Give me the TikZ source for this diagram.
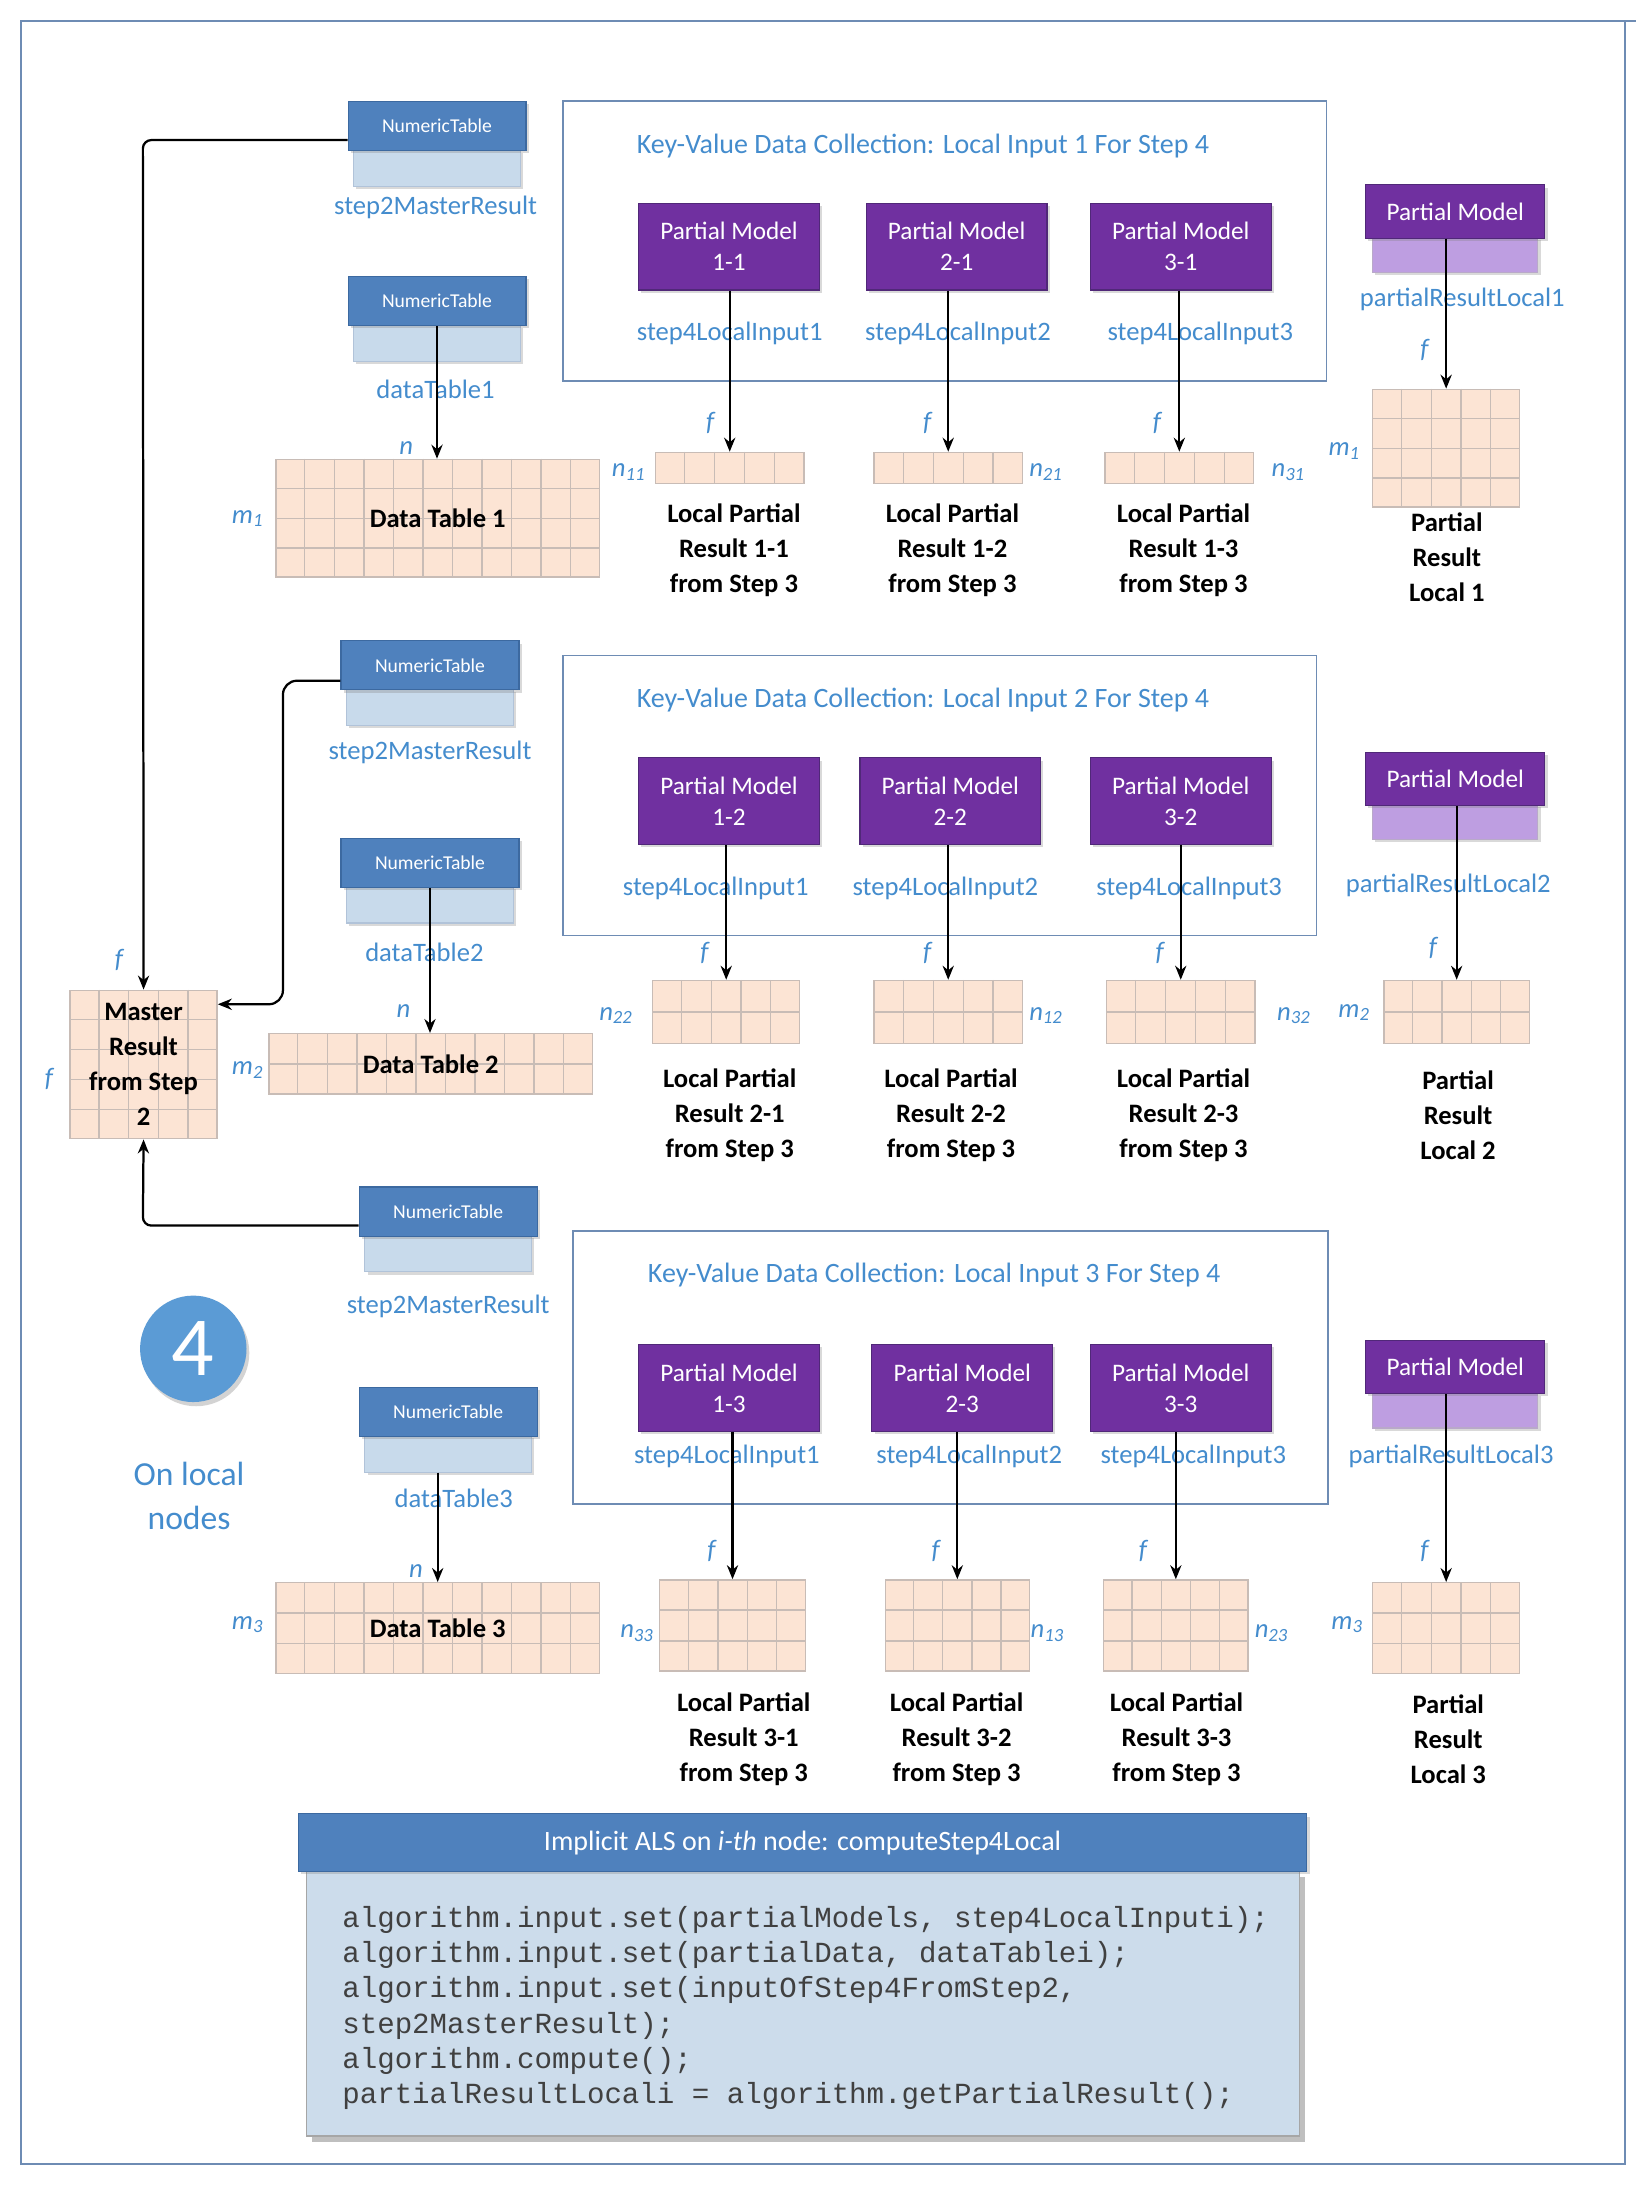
\documentclass[tikz,border=0pt]{standalone}
\usepackage{fontspec}
\setmainfont{Carlito}
\newfontfamily\codefont{Liberation Mono}
\usetikzlibrary{calc,shadows,arrows.meta}
\definecolor{lbl}{RGB}{68,140,205}
\definecolor{ntf}{RGB}{79,129,189}
\definecolor{ntb}{RGB}{60,105,160}
\definecolor{ntlf}{RGB}{200,218,235}
\definecolor{pmf}{RGB}{112,48,160}
\definecolor{pmb}{RGB}{80,40,120}
\definecolor{pmlf}{RGB}{190,158,225}
\definecolor{gridf}{RGB}{252,228,212}
\definecolor{gridl}{RGB}{200,188,182}
\definecolor{brd}{RGB}{110,140,180}
\definecolor{circ}{RGB}{91,155,213}
\definecolor{codebg}{RGB}{204,220,235}
\begin{document}
\begin{tikzpicture}[x=0.5pt,y=-0.5pt,
 lab/.style={text=lbl,font=\fontsize{9.5}{11}\selectfont,inner sep=0},
 vl/.style={text=lbl,font=\fontsize{9.5}{11}\selectfont\itshape,inner sep=0},
 nt/.style={draw=ntb,fill=ntf,text=white,minimum width=63.5pt,minimum height=17.5pt,inner sep=0,font=\fontsize{7}{8}\selectfont,drop shadow={shadow xshift=1pt,shadow yshift=-1pt,opacity=0.3}},
 ntl/.style={draw=ntb!40,fill=ntlf,minimum width=59.5pt,minimum height=13pt,inner sep=0,drop shadow={shadow xshift=1pt,shadow yshift=-1pt,opacity=0.3}},
 pm/.style={draw=pmb,fill=pmf,text=white,minimum width=64.5pt,minimum height=31pt,inner sep=0,align=center,font=\fontsize{9}{11}\selectfont,drop shadow={shadow xshift=1pt,shadow yshift=-1pt,opacity=0.3}},
 rpm/.style={draw=pmb,fill=pmf,text=white,minimum width=64pt,minimum height=19pt,inner sep=0,font=\fontsize{9}{11}\selectfont,drop shadow={shadow xshift=1pt,shadow yshift=-1pt,opacity=0.3}},
 rpml/.style={draw=pmb!40,fill=pmlf,minimum width=59pt,minimum height=12.5pt,inner sep=0,drop shadow={shadow xshift=1pt,shadow yshift=-1pt,opacity=0.3}},
 capt/.style={font=\bfseries\fontsize{9.5}{12.5}\selectfont,align=center,inner sep=0},
 kv/.style={draw=brd,line width=0.6pt},
 kvt/.style={text=lbl,font=\fontsize{10}{12}\selectfont,inner sep=0},
 arr/.style={-{Stealth[length=5pt,width=4pt]},line width=0.8pt,black}]
\newcommand\gtab[7]{%
 \node[draw=gridl,fill=gridf,minimum width={0.5pt*#4},minimum height={0.5pt*#5},inner sep=0,line width=0.5pt] (#1) at (#2,#3) {};
 \foreach \i in {1,...,#6}{\draw[gridl,line width=0.5pt] ($(#1.north west)!{\i/(#6+1)}!(#1.north east)$) -- ($(#1.south west)!{\i/(#6+1)}!(#1.south east)$);}
 \ifnum#7>0 \foreach \j in {1,...,#7}{\draw[gridl,line width=0.5pt] ($(#1.north west)!{\j/(#7+1)}!(#1.south west)$) -- ($(#1.north east)!{\j/(#7+1)}!(#1.south east)$);}\fi}
\useasboundingbox (0,0) rectangle (1178,1565);
\draw[brd,line width=0.6pt] (15,15) rectangle (1160,1545);
\draw[brd,line width=0.6pt] (1160,15) -- (1168,15);
% circle
\node[circle,fill=circ,minimum size=38pt,text=white,font=\fontsize{30}{30}\selectfont,drop shadow={shadow xshift=1pt,shadow yshift=-1.5pt,opacity=0.35}] (four) at (138,963) {4};
\node[text=lbl,font=\fontsize{12}{16}\selectfont,align=center] (onl) at (135,1068) {On local\\nodes};
% ===== Row 1 =====
\node[ntl] (s1b) at (312,120) {}; \node[nt] (s1) at (312,90) {NumericTable};
\node[lab] (s1l) at (311,148) {step2MasterResult};
\node[ntl] (d1b) at (312,245) {}; \node[nt] (d1) at (312,215) {NumericTable};
\node[lab] (d1l) at (311,278) {dataTable1};
\gtab{dt1}{312.5}{370}{231}{84}{10}{3}
\node[capt,font=\bfseries\fontsize{9.5}{11}\selectfont] at (dt1) {Data Table 1};
\node[vl] at (290,320) {n}; \node[vl] at (177,370) {m\textsubscript{1}};
\draw[arr] (d1.south) -- (d1.south |- dt1.north);
% master
\gtab{ms}{102.5}{760}{105}{106}{4}{4}
\node[capt,font=\bfseries\fontsize{9.5}{12.5}\selectfont] at (ms) {Master\\Result\\from Step\\2};
\node[vl] at (85,685) {f}; \node[vl] at (35,770) {f};
\coordinate (c1) at (102,100);
\draw[arr,rounded corners=3pt] (s1.west |- c1) -- (c1) -- (ms.north);
\draw[kv] (402,72) rectangle (947,272);
\node[kvt] at (659,104) {Key-Value Data Collection: Local Input 1 For Step 4};
\node[pm] (p11) at (520.5,176) {Partial Model\\1-1};
\node[pm] (p21) at (683,176) {Partial Model\\2-1};
\node[pm] (p31) at (843,176) {Partial Model\\3-1};
\node[lab] at (521,238) {step4LocalInput1};
\node[lab] at (684,238) {step4LocalInput2};
\node[lab] at (857,238) {step4LocalInput3};
\gtab{t11}{521}{334}{106}{22}{4}{0}
\gtab{t21}{677}{334}{106}{22}{4}{0}
\gtab{t31}{842}{334}{106}{22}{4}{0}
\draw[arr] (t11.north |- p11.south) -- (t11.north);
\draw[arr] (t21.north |- p21.south) -- (t21.north);
\draw[arr] (t31.north |- p31.south) -- (t31.north);
\node[vl] at (507,302) {f}; \node[vl] at (662,302) {f}; \node[vl] at (826,302) {f};
\node[vl] at (449,337) {n\textsubscript{11}}; \node[vl] at (747,337) {n\textsubscript{21}}; \node[vl] at (920,337) {n\textsubscript{31}};
\node[capt] at (524,393) {Local Partial\\Result 1-1\\from Step 3};
\node[capt] at (680,393) {Local Partial\\Result 1-2\\from Step 3};
\node[capt] at (845,393) {Local Partial\\Result 1-3\\from Step 3};
\node[rpml] (r1b) at (1039,182) {}; \node[rpm] (r1) at (1039,151) {Partial Model};
\node[lab] at (1044,214) {partialResultLocal1};
\gtab{pr1}{1032.5}{320}{105}{84}{4}{3}
\draw[arr] (pr1.north |- r1.south) -- (pr1.north);
\node[vl] at (1017,250) {f}; \node[vl] at (960,322) {m\textsubscript{1}};
\node[capt] at (1033,398) {Partial\\Result\\Local 1};
% ===== Row 2 =====
\node[ntl] (s2b) at (307,505) {}; \node[nt] (s2) at (307,475) {NumericTable};
\node[lab] at (307,537) {step2MasterResult};
\node[ntl] (d2b) at (307,646) {}; \node[nt] (d2) at (307,616) {NumericTable};
\node[lab] at (303,680) {dataTable2};
\gtab{dt2}{307.5}{759.5}{231}{43}{10}{1}
\node[capt,font=\bfseries\fontsize{9.5}{11}\selectfont] at (dt2) {Data Table 2};
\node[vl] at (288,722) {n}; \node[vl] at (177,764) {m\textsubscript{2}};
\draw[arr] (d2.south) -- (d2.south |- dt2.north);
\coordinate (c2) at (202,486); \coordinate (c3) at (202,717);
\draw[arr,rounded corners=5pt] (s2.west |- c2) -- (c2) -- (c3) -- (ms.east |- c3);
\draw[kv] (402,468) rectangle (940,668);
\node[kvt] at (659,500) {Key-Value Data Collection: Local Input 2 For Step 4};
\node[pm] (p12) at (520.5,572) {Partial Model\\1-2};
\node[pm] (p22) at (678.5,572) {Partial Model\\2-2};
\node[pm] (p32) at (843,572) {Partial Model\\3-2};
\node[lab] at (511,634) {step4LocalInput1};
\node[lab] at (675,634) {step4LocalInput2};
\node[lab] at (849,634) {step4LocalInput3};
\gtab{t12}{518.5}{722.5}{105}{45}{4}{1}
\gtab{t22}{677}{722.5}{106}{45}{4}{1}
\gtab{t32}{843}{722.5}{106}{45}{4}{1}
\draw[arr] (t12.north |- p12.south) -- (t12.north);
\draw[arr] (t22.north |- p22.south) -- (t22.north);
\draw[arr] (t32.north |- p32.south) -- (t32.north);
\node[vl] at (503,680) {f}; \node[vl] at (662,680) {f}; \node[vl] at (828,680) {f};
\node[vl] at (440,725) {n\textsubscript{22}}; \node[vl] at (747,725) {n\textsubscript{12}}; \node[vl] at (924,725) {n\textsubscript{32}};
\node[capt] at (521,796) {Local Partial\\Result 2-1\\from Step 3};
\node[capt] at (679,796) {Local Partial\\Result 2-2\\from Step 3};
\node[capt] at (845,796) {Local Partial\\Result 2-3\\from Step 3};
\node[rpml] (r2b) at (1039,587) {}; \node[rpm] (r2) at (1039,556) {Partial Model};
\node[lab] at (1034,632) {partialResultLocal2};
\gtab{pr2}{1040}{722.5}{104}{45}{4}{1}
\draw[arr] (pr2.north |- r2.south) -- (pr2.north);
\node[vl] at (1023,677) {f}; \node[vl] at (967,723) {m\textsubscript{2}};
\node[capt] at (1041,796) {Partial\\Result\\Local 2};
% ===== Row 3 =====
\node[ntl] (s3b) at (320,895) {}; \node[nt] (s3) at (320,865) {NumericTable};
\node[lab] at (320,933) {step2MasterResult};
\node[ntl] (d3b) at (320,1038) {}; \node[nt] (d3) at (320,1008) {NumericTable};
\node[lab] at (324,1070) {dataTable3};
\gtab{dt3}{312.5}{1162.5}{231}{65}{10}{2}
\node[capt,font=\bfseries\fontsize{9.5}{11}\selectfont] at (dt3) {Data Table 3};
\node[vl] at (297,1122) {n}; \node[vl] at (177,1160) {m\textsubscript{3}};
\draw[arr] (dt3.north |- d3b.south) -- (dt3.north);
\coordinate (c4) at (102,875);
\draw[arr,rounded corners=3pt] (s3.west |- c4) -- (c4) -- (ms.south);
\draw[kv] (409,879) rectangle (948,1074);
\node[kvt] at (667,910) {Key-Value Data Collection: Local Input 3 For Step 4};
\node[pm] (p13) at (520.5,991) {Partial Model\\1-3};
\node[pm] (p23) at (687,991) {Partial Model\\2-3};
\node[pm] (p33) at (843,991) {Partial Model\\3-3};
\node[lab] at (519,1040) {step4LocalInput1};
\node[lab] at (692,1040) {step4LocalInput2};
\node[lab] at (852,1040) {step4LocalInput3};
\gtab{t13}{523}{1160.5}{104}{65}{4}{2}
\gtab{t23}{683.5}{1160.5}{103}{65}{4}{2}
\gtab{t33}{839.5}{1160.5}{103}{65}{4}{2}
\draw[arr] (t13.north |- p13.south) -- (t13.north);
\draw[arr] (t23.north |- p23.south) -- (t23.north);
\draw[arr] (t33.north |- p33.south) -- (t33.north);
\node[vl] at (508,1107) {f}; \node[vl] at (668,1107) {f}; \node[vl] at (816,1107) {f};
\node[vl] at (455,1166) {n\textsubscript{33}}; \node[vl] at (748,1166) {n\textsubscript{13}}; \node[vl] at (908,1166) {n\textsubscript{23}};
\node[capt] at (531,1242) {Local Partial\\Result 3-1\\from Step 3};
\node[capt] at (683,1242) {Local Partial\\Result 3-2\\from Step 3};
\node[capt] at (840,1242) {Local Partial\\Result 3-3\\from Step 3};
\node[rpml] (r3b) at (1039,1007) {}; \node[rpm] (r3) at (1039,976) {Partial Model};
\node[lab] at (1036,1040) {partialResultLocal3};
\gtab{pr3}{1032.5}{1162.5}{105}{65}{4}{2}
\draw[arr] (pr3.north |- r3.south) -- (pr3.north);
\node[vl] at (1017,1107) {f}; \node[vl] at (962,1160) {m\textsubscript{3}};
\node[capt] at (1034,1242) {Partial\\Result\\Local 3};
% ===== code box =====
\fill[black,opacity=0.25] (223,1340) rectangle (932,1529);
\draw[gray!70,fill=codebg] (219,1336) rectangle (928,1525);
\node[draw=ntb,fill=ntf,text=white,minimum width=360pt,minimum height=20.5pt,inner sep=0,font=\fontsize{10}{12}\selectfont,drop shadow={shadow xshift=1pt,shadow yshift=-1pt,opacity=0.3}] (hdr) at (573,1315.5) {Implicit ALS on \textit{i-th} node: computeStep4Local};
\node[anchor=north west,inner sep=0,align=left,text=black!75,font=\codefont\fontsize{10.4}{12.5}\selectfont] (code) at (244,1361) {algorithm.input.set(partialModels, step4LocalInputi);\\algorithm.input.set(partialData, dataTablei);\\algorithm.input.set(inputOfStep4FromStep2,\\step2MasterResult);\\algorithm.compute();\\partialResultLocali = algorithm.getPartialResult();};
\end{tikzpicture}
\end{document}
